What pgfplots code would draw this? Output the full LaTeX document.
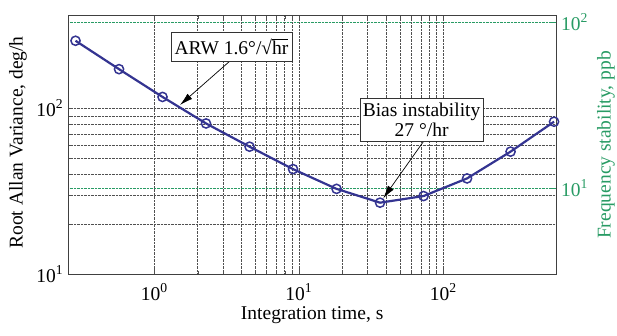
\documentclass[border=0pt]{standalone}
\usepackage{fontspec}
\setmainfont{Liberation Serif}
\usepackage{pgfplots}
\pgfplotsset{compat=1.18}
\usetikzlibrary{arrows.meta}

\definecolor{curve}{RGB}{52,52,145}
\definecolor{ppb}{RGB}{40,155,100}
\definecolor{gridc}{RGB}{80,80,80}

\newcommand{\bigfont}{\fontsize{19.5}{20}\selectfont}

\begin{document}
\bigfont
\begin{tikzpicture}
% fixed page frame around the 487.7pt x 258.6pt plot box
\path[use as bounding box] (-68.3pt,-60.7pt) rectangle (548.7pt,274.3pt);

% right-hand scale: frequency stability in ppb
\begin{axis}[
  scale only axis, width=487.7pt, height=258.6pt,
  xmode=log, ymode=log,
  xmin=0.254, xmax=602, ymin=3.034, ymax=109.5,
  axis x line=none, axis y line*=right,
  y axis line style={draw=none},
  ytick={10,100}, yticklabels={10\textsuperscript{1},10\textsuperscript{2}},
  yminorticks=false,
  yticklabel style={text=ppb, font=\bigfont, inner sep=0pt, xshift=5pt},
  major tick style={ppb, line width=0.6pt},
  tick align=inside, major tick length=5pt,
  ymajorgrids, major grid style={ppb, densely dotted, line width=0.6pt},
  ylabel={Frequency stability, ppb},
  ylabel style={text=ppb, font=\bigfont, at={(axis description cs:1.1025,0.5)}, anchor=center},
]
\end{axis}

% left-hand scale: root Allan variance in deg/h
\begin{axis}[
  scale only axis, width=487.7pt, height=258.6pt,
  xmode=log, ymode=log,
  xmin=0.254, xmax=602, ymin=10, ymax=361,
  xtick={1,10,100}, xticklabels={10\textsuperscript{0},10\textsuperscript{1},10\textsuperscript{2}},
  ytick={10,100}, yticklabels={10\textsuperscript{1},10\textsuperscript{2}},
  ytick pos=left,
  tick label style={font=\bigfont},
  xticklabel style={inner sep=0pt, yshift=-9pt},
  yticklabel style={inner sep=0pt, xshift=-5pt},
  tick align=inside, major tick length=5pt, minor tick length=3pt,
  tick style={gridc, line width=0.6pt},
  axis line style={black!75, line width=0.8pt},
  grid=both,
  major grid style={gridc, densely dotted, line width=0.65pt},
  minor grid style={gridc, densely dotted, line width=0.65pt},
  xlabel={Integration time, s},
  xlabel style={font=\bigfont, at={(axis description cs:0.5,-0.124)}, anchor=north, inner sep=0pt},
  ylabel={Root Allan Variance, deg/h},
  ylabel style={font=\bigfont, at={(axis description cs:-0.1031,0.51)}, anchor=center},
  clip=false,
]
\addplot[curve, line width=2.2pt, mark=o,
  mark options={line width=1.5pt, fill=white, scale=2.3, solid}]
  coordinates {
    (0.285,255) (0.57,172) (1.14,117) (2.28,81) (4.56,58.7) (9.12,43)
    (18.24,32.7) (36.48,27) (72.96,29.6) (145.92,37.8) (291.84,54.8) (583.68,83)
  };

% annotations
\draw[black, line width=0.7pt, -{Latex[length=13pt,width=7pt]}]
  (axis cs:3.34,192.7) -- (axis cs:1.506,104.7);
\node[draw=black!80, line width=0.7pt, fill=white, minimum width=121pt,
      minimum height=29pt, inner sep=1pt, font=\bigfont]
  at (axis cs:3.42,235.6) {ARW 1.6°/√\ensuremath{\overline{\mbox{hr}}}};

\draw[black, line width=0.7pt, -{Latex[length=13pt,width=7pt]}]
  (axis cs:72.7,62.9) -- (axis cs:38.4,28.7);
\node[draw=black!80, line width=0.7pt, fill=white, minimum width=123pt,
      minimum height=43.4pt, inner sep=1pt, align=center, font=\bigfont]
  at (axis cs:70.7,85) {Bias instability\\27 °/hr};
\end{axis}
\end{tikzpicture}
\end{document}
